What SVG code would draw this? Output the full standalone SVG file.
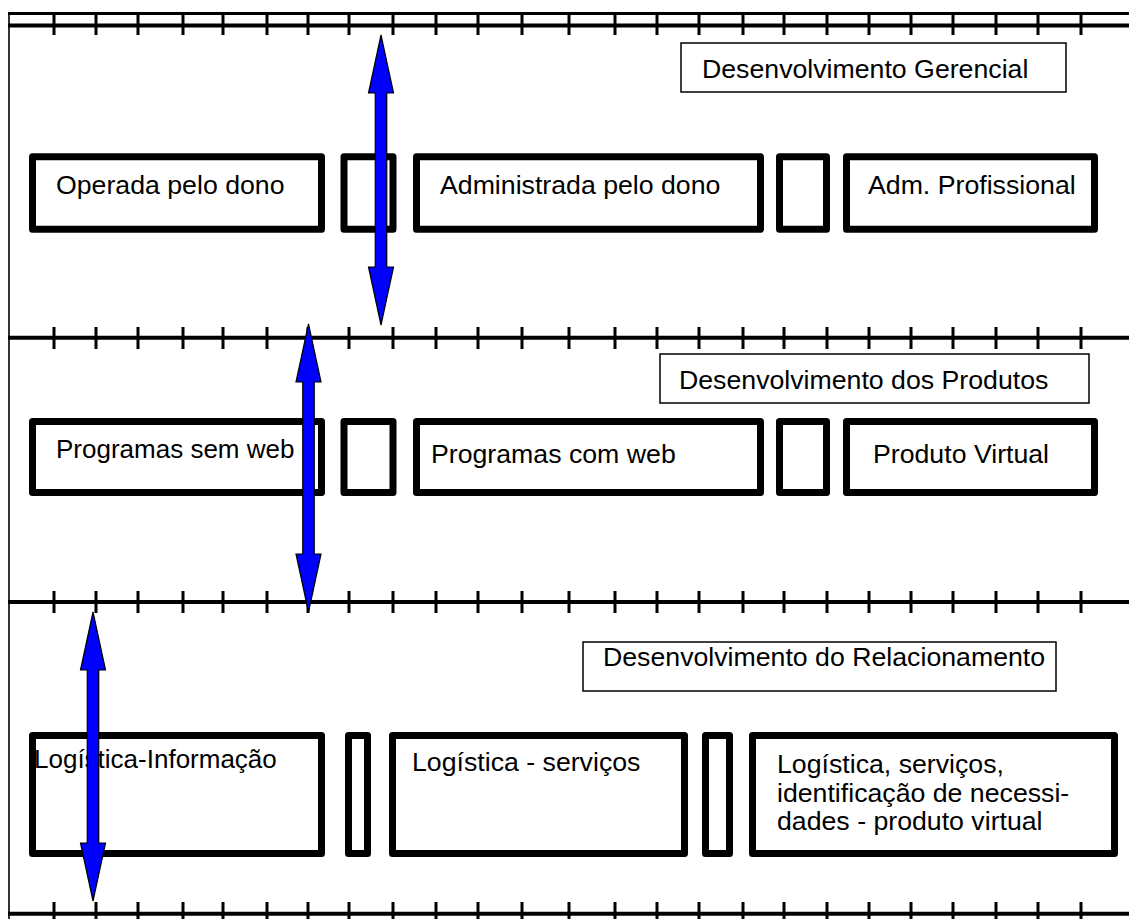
<svg xmlns="http://www.w3.org/2000/svg" width="1129" height="919" viewBox="0 0 1129 919">
<style>
.rule{stroke:#000;stroke-width:4;fill:none}
.thin{stroke:#000;stroke-width:3;fill:none}
.tick{stroke:#000;stroke-width:3}
.box{fill:#fff;stroke:#000;stroke-width:7;stroke-linejoin:round}
.lbl{fill:#fff;stroke:#000;stroke-width:1.5}
.t{font-family:"Liberation Sans",Arial,sans-serif;font-size:26.7px;fill:#000}
.ts{font-family:"Liberation Sans",Arial,sans-serif;font-size:26px;fill:#000}
.arr{fill:#0000ff;stroke:#000;stroke-width:1.2;stroke-linejoin:miter}
</style>
<defs>
<g id="ticks">
<path class="tick" d="M54 0v22M96 0v22M138 0v22M183 0v22M223 0v22M267 0v22M308 0v22M349 0v22M393 0v22M436 0v22M478 0v22M522 0v22M569 0v22M615 0v22M657 0v22M699 0v22M743 0v22M784 0v22M827 0v22M869 0v22M911 0v22M953 0v22M996 0v22M1038 0v22M1081 0v22"/>
</g>
</defs>
<rect width="1129" height="919" fill="#fff"/>
<g id="frame">
<line x1="9" y1="12" x2="9" y2="919" stroke="#333" stroke-width="2"/>
<line class="thin" x1="8" y1="13.5" x2="1129" y2="13.5"/>
<line class="rule" x1="8" y1="25.5" x2="1129" y2="25.5"/>
<use href="#ticks" x="0" y="13"/>
<line class="rule" x1="8" y1="337.7" x2="1129" y2="337.7"/>
<use href="#ticks" x="0" y="327"/>
<line class="rule" x1="8" y1="602" x2="1129" y2="602"/>
<use href="#ticks" x="0" y="591"/>
<line class="rule" x1="8" y1="913.7" x2="1129" y2="913.7"/>
<use href="#ticks" x="0" y="902"/>
</g>
<g id="hdr1"><rect class="lbl" x="681" y="43" width="385" height="49"/><text class="t" x="702" y="78">Desenvolvimento Gerencial</text></g>
<g id="hdr2"><rect class="lbl" x="660" y="354" width="429" height="49"/><text class="t" x="679" y="389">Desenvolvimento dos Produtos</text></g>
<g id="hdr3"><rect class="lbl" x="583" y="642" width="473" height="49"/><text class="t" x="603" y="666">Desenvolvimento do Relacionamento</text></g>
<g id="r1b1"><rect class="box" x="32.5" y="156.8" width="289" height="72.4"/><text class="t" x="56" y="194">Operada pelo dono</text></g>
<g id="r1b2"><rect class="box" x="344" y="156.8" width="49" height="72.4"/></g>
<g id="r1b3"><rect class="box" x="416.5" y="156.8" width="344" height="72.4"/><text class="t" x="440" y="194">Administrada pelo dono</text></g>
<g id="r1b4"><rect class="box" x="779.5" y="156.8" width="47" height="72.4"/></g>
<g id="r1b5"><rect class="box" x="846.5" y="156.8" width="248" height="72.4"/><text class="t" x="868" y="194">Adm. Profissional</text></g>
<g id="r2b1"><rect class="box" x="32.5" y="421.5" width="289" height="71"/><text class="ts" x="56" y="458">Programas sem web</text></g>
<g id="r2b2"><rect class="box" x="344" y="421.5" width="49" height="71"/></g>
<g id="r2b3"><rect class="box" x="416.5" y="421.5" width="344" height="71"/><text class="t" x="431" y="463">Programas com web</text></g>
<g id="r2b4"><rect class="box" x="779.5" y="421.5" width="47" height="71"/></g>
<g id="r2b5"><rect class="box" x="846.5" y="421.5" width="248" height="71"/><text class="t" x="873" y="463">Produto Virtual</text></g>
<g id="r3b1"><rect class="box" x="32.5" y="735.5" width="289" height="118"/><text class="ts" x="34" y="768">Logística-Informação</text></g>
<g id="r3b2"><rect class="box" x="348.5" y="735.5" width="19" height="118"/></g>
<g id="r3b3"><rect class="box" x="392.5" y="735.5" width="292" height="118"/><text class="t" x="412" y="771">Logística - serviços</text></g>
<g id="r3b4"><rect class="box" x="705.5" y="735.5" width="24" height="118"/></g>
<g id="r3b5"><rect class="box" x="752.5" y="735.5" width="362" height="118"/><text class="t" x="777" y="773">Logística, serviços,</text><text class="t" x="777" y="801.5">identificação de necessi-</text><text class="t" x="777" y="830">dades - produto virtual</text></g>
<g id="connectors">
<polygon class="arr" points="381,35 393.5,93 386.75,93 386.75,267 393.5,267 381,325 368.5,267 375.25,267 375.25,93 368.5,93"/>
<polygon class="arr" points="308.5,324 321,382 314.25,382 314.25,554 321,554 308.5,612 296,554 302.75,554 302.75,382 296,382"/>
<polygon class="arr" points="93,612 105.5,670 98.75,670 98.75,843 105.5,843 93,901 80.5,843 87.25,843 87.25,670 80.5,670"/>
</g>
</svg>
